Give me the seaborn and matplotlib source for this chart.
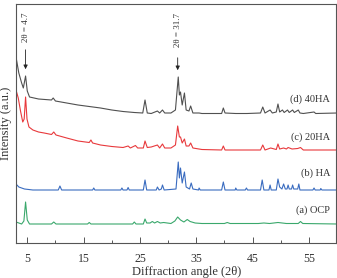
import matplotlib
matplotlib.use("Agg")
import matplotlib.pyplot as plt
import seaborn as sns
import pandas as pd

# Values (intensity in arbitrary units)
ocp_angle = [3.0, 4.0, 4.4, 4.7, 5.0, 5.4, 9.3, 9.7, 10.1, 15.7, 16.0, 16.3, 23.7, 24.0, 24.3,
             25.6, 25.9, 26.2, 26.8, 27.2, 27.6, 28.1, 28.6, 29.2, 30.5, 31.2, 31.7, 32.2, 32.8,
             33.4, 33.9, 34.8, 36.0, 40.0, 40.5, 41.0, 46.0, 47.0, 48.0, 49.5, 51.0, 53.1, 53.5,
             53.9, 60.0]
ocp_int = [21, 19, 22, 41, 23, 19, 19, 21, 19, 19, 20.5, 19, 19, 21, 19,
           19, 24, 20, 20, 21.5, 20, 21.5, 20, 20.5, 19.5, 22, 26, 23, 21,
           23.5, 21.5, 20, 19.5, 19.5, 20.5, 19.5, 19.5, 20, 19.5, 20.5, 19.5, 19.5, 21.5,
           19.5, 19]

ha_angle = [3.0, 3.5, 4.5, 6.0, 10.5, 10.8, 11.1, 16.6, 16.8, 17.0, 21.6, 21.8, 22.0, 22.7, 22.9,
            23.1, 25.6, 25.9, 26.2, 27.9, 28.1, 28.4, 28.8, 29.0, 29.3, 31.4, 31.8, 32.0, 32.2,
            32.5, 32.9, 33.2, 33.8, 34.1, 34.4, 35.4, 35.5, 35.7, 39.5, 39.8, 40.1, 41.9, 42.0,
            42.2, 43.7, 43.9, 44.1, 46.4, 46.7, 47.0, 47.9, 48.1, 48.3, 49.2, 49.5, 49.8, 50.2,
            50.5, 50.8, 51.1, 51.3, 51.5, 51.9, 52.1, 52.3, 53.0, 53.2, 53.4, 55.7, 55.9, 56.1,
            57.0, 57.1, 57.3, 60.0]
ha_int = [59, 56, 54, 53, 53, 57, 53, 53, 55, 53, 53, 55, 53, 53, 55.5,
          53, 53, 63, 53, 53, 56, 53, 54, 58, 53, 54, 81, 65, 75,
          60, 71, 56, 54, 60, 54, 53, 55, 53, 53, 61, 53, 53, 55,
          53, 53, 55, 53, 53, 63, 53, 53, 58, 53, 53, 64, 56, 54,
          59, 54, 54, 58, 54, 54, 58, 54, 54, 59, 53, 53, 55, 53,
          53, 54.5, 53, 53]

ha20_angle = [3.0, 3.4, 3.8, 4.2, 4.45, 4.7, 4.95, 5.3, 6.0, 7.0, 8.0, 9.3, 9.7, 10.1, 12.0, 14.0,
              16.0, 16.3, 16.6, 18.0, 20.0, 22.0, 22.9, 23.3, 24.2, 24.6, 25.6, 25.9, 26.3, 27.0,
              28.1, 28.5, 29.0, 29.4, 30.5, 31.3, 31.7, 32.0, 32.2, 32.5, 32.9, 33.2, 33.7, 34.0,
              34.4, 36.0, 39.5, 39.8, 40.1, 42.0, 44.0, 46.4, 46.8, 47.2, 48.2, 49.2, 49.5, 49.8,
              50.5, 51.0, 51.3, 52.0, 53.0, 53.5, 54.0, 56.0, 60.0]
ha20_int = [153, 145, 132, 121, 124, 146, 124, 116, 113, 111, 110, 108.5, 111, 108, 105, 102,
            100.5, 103, 100, 98, 96.5, 95.5, 97, 95, 97.5, 95, 95, 102, 95.5, 96,
            98, 95, 99, 95, 95, 98, 117, 106, 106, 100, 104, 97, 97, 100,
            95, 93.5, 93, 97, 93, 93, 93, 93, 98, 93, 95, 93.5, 99, 94,
            95, 94, 95.5, 94, 94.5, 95.5, 93, 93, 93]

ha40_angle = [3.0, 3.5, 4.0, 4.3, 4.7, 5.0, 5.4, 7.0, 9.3, 9.6, 10.0, 12.0, 14.0, 16.0, 18.0, 20.0,
              22.0, 23.0, 24.0, 25.5, 25.9, 26.3, 27.0, 28.1, 28.5, 29.0, 29.4, 30.5, 31.3, 31.8,
              32.0, 32.2, 32.5, 32.9, 33.2, 33.7, 34.0, 34.4, 35.5, 36.0, 39.5, 39.8, 40.1, 42.0,
              44.0, 46.4, 46.8, 47.2, 48.1, 48.5, 49.2, 49.5, 49.8, 50.3, 50.6, 51.2, 51.5, 52.1,
              52.4, 53.1, 53.4, 54.0, 55.9, 56.2, 60.0]
ha40_int = [186, 170, 160, 155, 167, 152, 146, 144, 143, 145, 142, 140, 138, 136.5, 135, 133,
            131.5, 131, 130.5, 130, 143, 130, 129.5, 132, 130, 133, 130, 130, 133, 166,
            148, 151, 138, 150, 133, 132, 137, 130, 130, 129.5, 129.5, 135, 130, 129.5,
            129.5, 130, 136, 130, 133, 130, 131, 139, 131, 133, 130.5, 133, 130.5, 133,
            130.5, 133, 130, 129.5, 131, 129.5, 130]

major_ticks = [5, 15, 25, 35, 45, 55]
minor_ticks = [10, 20, 30, 40, 50]

series = [
    ("(a) OCP", ocp_angle, ocp_int, "#3aa86c", 33),
    ("(b) HA", ha_angle, ha_int, "#3a6cc0", 70),
    ("(c) 20HA", ha20_angle, ha20_int, "#e8393c", 106),
    ("(d) 40HA", ha40_angle, ha40_int, "#505050", 144),
]

sns.set_theme(style="ticks")
plt.rcParams.update({
    "font.family": ["Liberation Serif", "DejaVu Serif"],
    "axes.edgecolor": "#555555",
    "axes.linewidth": 0.8,
})

fig = plt.figure(figsize=(3.37, 2.78), dpi=100)
ax = fig.add_axes([16 / 337, 1 - 243 / 278, 320 / 337, 239 / 278])

for name, xs, ys, color, label_y in series:
    df = pd.DataFrame({"angle": xs, "intensity": ys})
    sns.lineplot(data=df, x="angle", y="intensity", color=color, lw=0.8,
                 sort=False, estimator=None, ax=ax)
    ax.text(58.8, label_y, name, ha="right", va="center", fontsize=7.5, color="#333333")

# peak annotations
for pos, tip, tail, ytxt in [(4.7, 171, 196, 216), (31.7, 170, 188, 213)]:
    ax.annotate("", xy=(pos, tip), xytext=(pos, tail),
                arrowprops=dict(arrowstyle="-|>", color="#222222", lw=0.6, mutation_scale=6))
    ax.text(pos, ytxt, f"2θ = {pos}", rotation=90, ha="center", va="center",
            fontsize=6.5, color="#333333")

ax.set_xlim(3, 59.8)
ax.set_ylim(0, 239)
ax.set_xticks(major_ticks)
ax.set_xticks(minor_ticks, minor=True)
ax.set_yticks([])
ax.tick_params(axis="x", which="major", direction="in", length=4, width=0.7,
               labelsize=8.5, colors="#555555", labelcolor="#333333", pad=7)
ax.tick_params(axis="x", which="minor", direction="in", length=2.5, width=0.7, colors="#555555")
ax.set_xlabel("Diffraction angle (2θ)", fontsize=9, color="#333333")
ax.xaxis.set_label_coords(0.534, -0.095)
ax.set_ylabel("Intensity (a.u.)", fontsize=9, color="#333333")
ax.yaxis.set_label_coords(-0.011, 0.5)

fig.savefig("out.png", dpi=100)
